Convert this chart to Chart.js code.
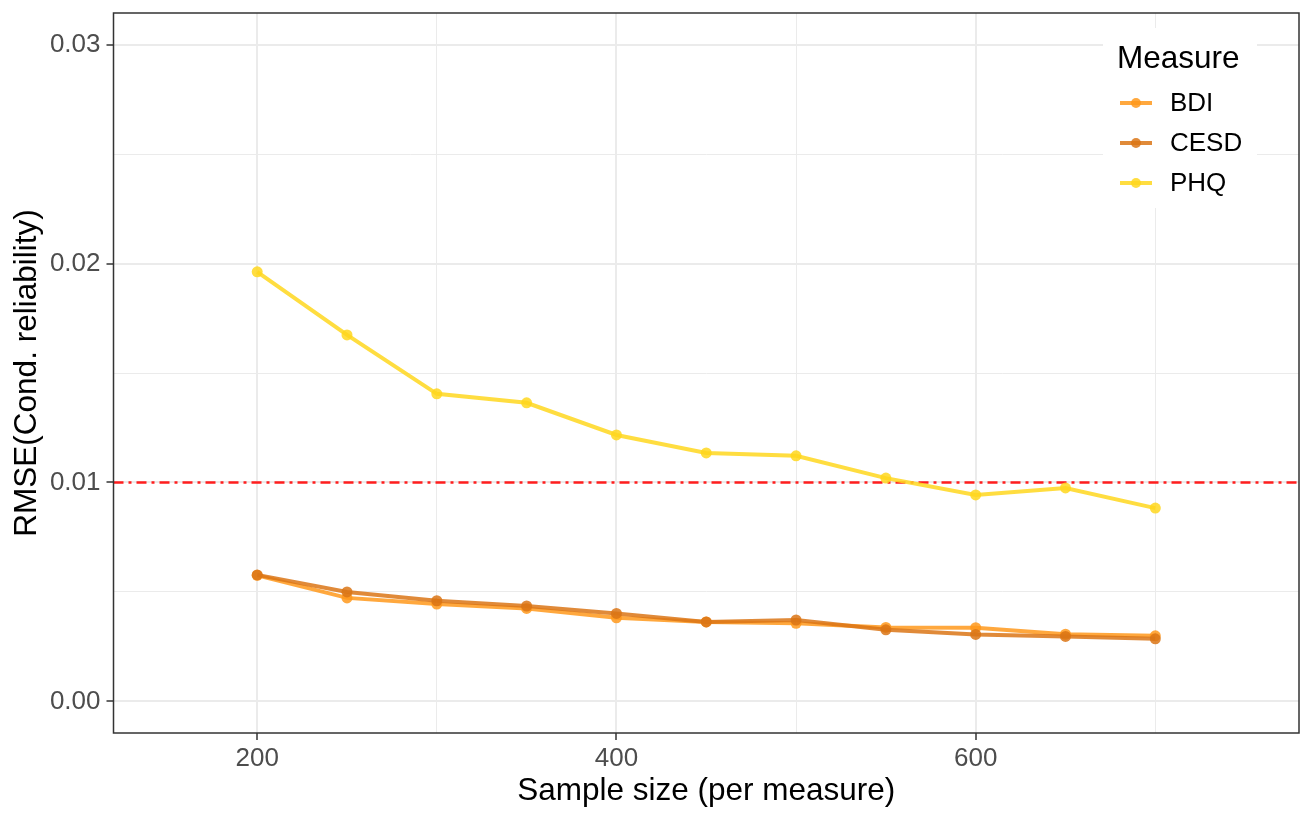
<!DOCTYPE html>
<html>
<head>
<meta charset="utf-8">
<script src="https://cdn.jsdelivr.net/npm/chart.js@4"></script>
<style>
  html, body { margin: 0; padding: 0; background: #fff; }
  #wrap { width: 1312px; height: 820px; }
</style>
</head>
<body>
<div id="wrap"><canvas id="myChart" width="1312" height="820"></canvas></div>
<script>
// data
const sampleSizes = [200, 250, 300, 350, 400, 450, 500, 550, 600, 650, 700];
const bdiValues  = [0.00576, 0.00473, 0.00445, 0.00425, 0.00382, 0.00363, 0.00357, 0.00338, 0.00337, 0.00307, 0.00300];
const cesdValues = [0.00578, 0.00500, 0.00460, 0.00436, 0.00402, 0.00363, 0.00372, 0.00327, 0.00306, 0.00297, 0.00286];
const phqValues  = [0.01962, 0.01674, 0.01405, 0.01364, 0.01217, 0.01135, 0.01122, 0.01020, 0.00943, 0.00975, 0.00883];
const measureNames = ['BDI', 'CESD', 'PHQ'];
const xTicks = [200, 300, 400, 500, 600, 700];
const yTicks = [0, 0.005, 0.01, 0.015, 0.02, 0.025, 0.03];
const threshold = 0.01;

const colors = {
    BDI: 'rgba(255,153,28,0.85)',
    CESD: 'rgba(218,118,22,0.85)',
    PHQ: 'rgba(255,215,30,0.85)'
};

const FONT = "'Liberation Sans', Arial, sans-serif";

function toPoints(vals) {
    return sampleSizes.map((s, i) => ({ x: s, y: vals[i] }));
}

const seriesValues = [bdiValues, cesdValues, phqValues];

const datasets = measureNames.map((name, i) => ({
    label: name,
    data: toPoints(seriesValues[i]),
    showLine: true,
    borderColor: colors[name],
    backgroundColor: colors[name],
    borderWidth: 4,
    pointRadius: 5.5,
    pointHoverRadius: 5.5,
    pointBorderWidth: 0,
    order: 3 - i
}));

// dash-dot reference line, drawn with the x scale
datasets.push({
    label: 'threshold',
    data: [{ x: 120, y: threshold }, { x: 780, y: threshold }],
    showLine: true,
    borderColor: '#ff1e1e',
    borderWidth: 2.6,
    borderDash: [10, 5, 3, 5],
    pointRadius: 0,
    order: 10
});

// panel border + ggplot-style legend inside the panel
const panelPlugin = {
    id: 'panel',
    afterDraw(chart) {
        const ctx = chart.ctx;
        const a = chart.chartArea;
        ctx.save();
        ctx.strokeStyle = '#333333';
        ctx.lineWidth = 1.5;
        ctx.strokeRect(a.left, a.top, a.right - a.left, a.bottom - a.top);

        // legend
        const lx = 1103, ly = 28, lw = 154, lh = 180;
        ctx.fillStyle = '#ffffff';
        ctx.fillRect(lx, ly, lw, lh);
        ctx.fillStyle = '#000000';
        ctx.font = '31.5px ' + FONT;
        ctx.textBaseline = 'alphabetic';
        ctx.textAlign = 'left';
        ctx.fillText('Measure', 1117, 68);
        ctx.font = '26px ' + FONT;
        measureNames.forEach((name, i) => {
            const cy = 103 + i * 40;
            ctx.strokeStyle = colors[name];
            ctx.lineWidth = 4;
            ctx.beginPath();
            ctx.moveTo(1120, cy);
            ctx.lineTo(1152, cy);
            ctx.stroke();
            ctx.fillStyle = colors[name];
            ctx.beginPath();
            ctx.arc(1136, cy, 5, 0, Math.PI * 2);
            ctx.fill();
            ctx.fillStyle = '#000000';
            ctx.textBaseline = 'middle';
            ctx.fillText(name, 1170, cy + 1);
        });
        ctx.restore();
    }
};

const ctx = document.getElementById('myChart').getContext('2d');
new Chart(ctx, {
    type: 'scatter',
    data: { datasets: datasets },
    options: {
        responsive: false,
        animation: false,
        events: [],
        layout: { padding: { top: 13, right: 13, left: 0, bottom: 0 } },
        plugins: {
            legend: { display: false },
            tooltip: { enabled: false }
        },
        scales: {
            x: {
                type: 'linear',
                min: 120,
                max: 780,
                afterBuildTicks(scale) {
                    scale.ticks = xTicks.map(v => ({ value: v }));
                },
                afterFit(scale) {
                    scale.height = 87;
                    scale.paddingLeft = 0;
                    scale.paddingRight = 0;
                },
                grid: {
                    color: '#ebebeb',
                    lineWidth: c => (c.tick && c.tick.value % 200 === 0) ? 2 : 1,
                    tickColor: c => (c.tick && c.tick.value % 200 === 0) ? '#333333' : 'rgba(0,0,0,0)',
                    tickLength: 7,
                    tickWidth: 1.5
                },
                border: { display: false },
                ticks: {
                    color: '#4d4d4d',
                    font: { family: FONT, size: 26 },
                    padding: 3,
                    maxRotation: 0,
                    autoSkip: false,
                    callback: v => (v % 200 === 0) ? String(v) : ''
                },
                title: {
                    display: true,
                    text: 'Sample size (per measure)',
                    color: '#000000',
                    font: { family: FONT, size: 31.5 },
                    padding: { top: 0, bottom: 10 }
                }
            },
            y: {
                type: 'linear',
                min: -0.00144,
                max: 0.03144,
                afterBuildTicks(scale) {
                    scale.ticks = yTicks.map(v => ({ value: v }));
                },
                afterFit(scale) {
                    scale.width = 113.5;
                    scale.paddingTop = 0;
                    scale.paddingBottom = 0;
                },
                grid: {
                    color: '#ebebeb',
                    lineWidth: c => (c.tick && Math.round(c.tick.value * 1000) % 10 === 0) ? 2 : 1,
                    tickColor: c => (c.tick && Math.round(c.tick.value * 1000) % 10 === 0) ? '#333333' : 'rgba(0,0,0,0)',
                    tickLength: 7,
                    tickWidth: 1.5
                },
                border: { display: false },
                ticks: {
                    color: '#4d4d4d',
                    font: { family: FONT, size: 26 },
                    padding: 6,
                    autoSkip: false,
                    callback: v => (Math.round(v * 1000) % 10 === 0) ? v.toFixed(2) : ''
                },
                title: {
                    display: true,
                    text: 'RMSE(Cond. reliability)',
                    color: '#000000',
                    font: { family: FONT, size: 31.5 },
                    padding: { top: 8, bottom: 0 }
                }
            }
        }
    },
    plugins: [panelPlugin]
});
</script>
</body>
</html>
